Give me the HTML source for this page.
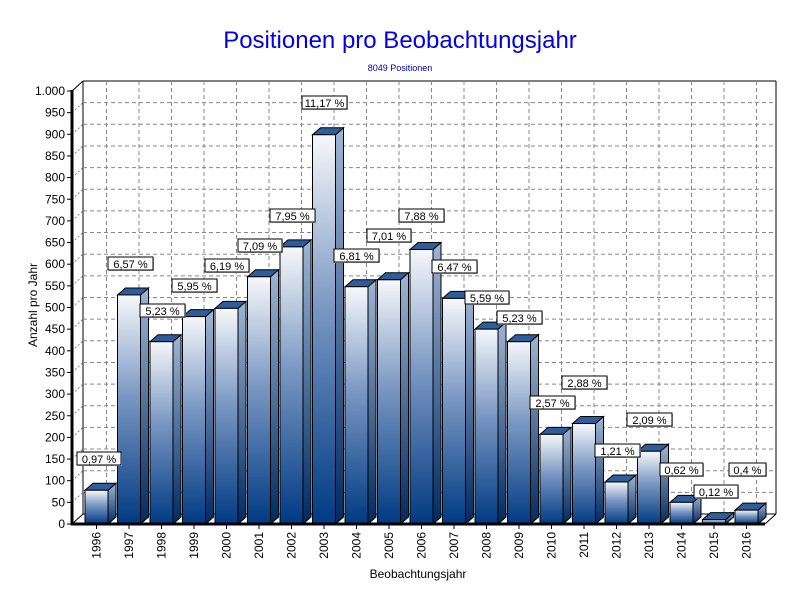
<!DOCTYPE html>
<html><head><meta charset="utf-8"><style>
html,body{margin:0;padding:0;background:#fff}
svg text{font-family:"Liberation Sans",sans-serif}
</style></head><body>
<svg id="c" width="800" height="600" xmlns="http://www.w3.org/2000/svg">
<defs>
<linearGradient id="gf" x1="0" y1="0" x2="0" y2="1"><stop offset="0" stop-color="#f6f8fb"/><stop offset="0.45" stop-color="#7896c2"/><stop offset="1" stop-color="#003a82"/></linearGradient>
<linearGradient id="gs" x1="0" y1="0" x2="0" y2="1"><stop offset="0" stop-color="#9fb6d4"/><stop offset="1" stop-color="#002a62"/></linearGradient>
</defs>
<text x="400" y="48" font-size="24" fill="#0000ee" text-anchor="middle">Positionen pro Beobachtungsjahr</text>
<text x="400" y="71" font-size="9" fill="#0000aa" text-anchor="middle">8049 Positionen</text>
<text transform="translate(37,305) rotate(-90)" font-size="12" text-anchor="middle">Anzahl pro Jahr</text>
<text x="418" y="578" font-size="12" text-anchor="middle">Beobachtungsjahr</text>
<g id="g"></g>
</svg>
<script>
const g=document.getElementById('g');let s='';
const k=0.433,Y0=524,X0=72,DX=11,DY=10;
s+=`<line x1="83" y1="81" x2="776" y2="81" stroke="#000"/>`;
s+=`<line x1="776" y1="81" x2="776" y2="514" stroke="#000"/>`;
s+=`<line x1="72" y1="91" x2="83" y2="81" stroke="#000"/>`;
s+=`<line x1="83" y1="81" x2="83" y2="514" stroke="#000"/>`;
for(let v=0;v<=1000;v+=50){const y=Y0-v*k;
 if(v>0&&v<1000)s+=`<line x1="83" y1="${y-DY}" x2="776" y2="${y-DY}" stroke="#888" stroke-dasharray="4,3"/><line x1="72" y1="${y}" x2="83" y2="${y-DY}" stroke="#888" stroke-dasharray="2,2"/>`;
 s+=`<line x1="67" y1="${y}" x2="72" y2="${y}" stroke="#000"/>`;
 const t=v==1000?'1.000':v;
 s+=`<text x="65" y="${y+4}" font-size="12" text-anchor="end">${t}</text>`;}
const vals=[78,529,421,479,498,571,640,899,548,564,634,521,450,421,207,232,97,168,50,10,32];
for(let i=0;i<21;i++){const cx=96.5+32.5*i;
 s+=`<line x1="${cx+10}" y1="81" x2="${cx+10}" y2="514" stroke="#888" stroke-dasharray="4,3"/>`;}
s+=`<line x1="72" y1="524" x2="83" y2="514" stroke="#000"/><line x1="83" y1="514" x2="776" y2="514" stroke="#000"/><line x1="765" y1="524" x2="776" y2="514" stroke="#000"/>`;
for(let i=0;i<21;i++){const x=85+32.5*i,w=23,d=8,h=7,yt=Y0-vals[i]*k;
 s+=`<line x1="${x}" y1="524" x2="${x+d}" y2="${524-h}" stroke="#000"/>`;
 s+=`<polygon points="${x+w},${yt} ${x+w+d},${yt-h} ${x+w+d},${524-h} ${x+w},524" fill="url(#gs)" stroke="#000"/>`;
 s+=`<polygon points="${x},${yt} ${x+d},${yt-h} ${x+w+d},${yt-h} ${x+w},${yt}" fill="#2d5d9c" stroke="#000"/>`;
 s+=`<rect x="${x}" y="${yt}" width="${w}" height="${524-yt}" fill="url(#gf)" stroke="#000"/>`;
 const cx=x+w/2;
 s+=`<line x1="${cx}" y1="524" x2="${cx}" y2="529" stroke="#000"/>`;
 s+=`<text transform="translate(${cx+4},${532}) rotate(-90)" font-size="12" text-anchor="end">${1996+i}</text>`;}
s+=`<line x1="72" y1="90" x2="72" y2="525" stroke="#000" stroke-width="3"/><line x1="71" y1="524" x2="765" y2="524" stroke="#000" stroke-width="3"/>`;
const L=[["0,97 %",77,121,459],["6,57 %",108,153,264],["5,23 %",140,185,311],["5,95 %",172,217,286],["6,19 %",205,249,266],["7,09 %",238,282,246],["7,95 %",270,315,216],["11,17 %",302,347,103],["6,81 %",334,379,256],["7,01 %",367,411,236],["7,88 %",399,444,216],["6,47 %",432,477,267],["5,59 %",465,509,298],["5,23 %",497,542,318],["2,57 %",530,575,403],["2,88 %",562,607,383],["1,21 %",595,640,451],["2,09 %",627,672,420],["0,62 %",660,703,470],["0,12 %",694,738,492],["0,4 %",729,766,470]];
for(const [t,a,b,y] of L){
 s+=`<rect x="${a+1}" y="${y-6}" width="${b-a}" height="13" fill="#bbb"/>`;
 s+=`<rect x="${a}" y="${y-7}" width="${b-a}" height="13" fill="#fff" stroke="#000"/>`;
 s+=`<text x="${(a+b)/2}" y="${y+4}" font-size="11" text-anchor="middle">${t}</text>`;}
g.innerHTML=s;
</script>
</body></html>
